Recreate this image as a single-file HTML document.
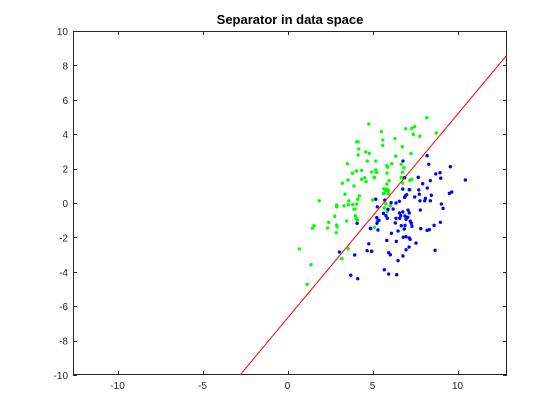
<!DOCTYPE html>
<html><head><meta charset="utf-8"><style>
html,body{margin:0;padding:0;background:#fff;width:560px;height:420px;overflow:hidden;position:relative;}
svg{position:absolute;left:0;top:0;display:block;font-family:"Liberation Sans",Arial,sans-serif;}
</style></head><body>
<svg id="chart" width="560" height="420" viewBox="0 0 560 420"></svg>
<script>
const xTicks=[-10,-5,0,5,10];
const yTicks=[-10,-8,-6,-4,-2,0,2,4,6,8,10];
const sepSlope=1.185, sepIntercept=-6.69;
const greenX=[4.78,4.07,4.15,4.19,4.60,4.81,4.15,4.69,5.19,3.52,4.05,4.36,4.95,5.19,5.22,3.81,4.54,4.36,4.62,3.56,5.09,3.22,3.91,3.38,4.22,1.87,4.13,3.60,2.89,2.89,3.32,3.58,4.07,3.84,3.91,3.97,5.01,2.78,3.99,4.03,4.11,2.42,3.48,1.56,1.46,2.36,2.89,2.91,2.87,0.69,3.56,3.19,1.38,1.15,5.11,
8.19,6.95,7.31,7.48,5.52,7.40,7.78,8.75,6.32,5.60,5.60,6.75,7.26,6.36,6.13,5.84,5.89,6.68,6.85,5.25,5.85,6.75,5.11,6.68,6.81,7.31,7.19,5.97,6.78,5.84,5.66,5.84,5.93,5.78,5.69,5.64,5.93,7.21,5.78,6.05,5.69,5.87];
const greenY=[4.59,3.56,3.55,3.14,2.97,2.89,2.79,2.44,2.44,2.28,1.86,1.90,1.80,1.92,1.80,1.73,1.47,1.38,1.24,1.34,1.47,1.15,0.99,0.51,0.42,0.13,0.22,0.12,-0.12,-0.22,-0.16,-0.10,-0.06,-0.10,-0.35,-0.35,0.17,-0.77,-0.74,-0.89,-0.99,-1.12,-1.05,-1.32,-1.47,-1.45,-1.28,-1.38,-1.73,-2.67,-2.66,-3.24,-3.59,-4.73,-1.41,
4.96,4.32,4.34,4.44,4.15,3.99,3.88,4.07,3.74,3.66,3.35,3.27,2.87,2.72,2.28,2.17,2.08,2.25,2.05,1.78,1.74,1.78,1.49,1.47,1.47,1.38,1.32,1.30,1.16,1.10,0.83,0.81,0.72,0.72,0.58,0.54,0.54,0.77,-0.04,-0.16,-0.29,-0.51];
const blueX=[5.19,5.28,5.25,5.32,5.26,4.09,4.89,5.32,4.78,4.68,4.95,3.05,3.95,3.72,4.13,
8.21,6.79,8.31,9.58,8.97,8.72,9.01,10.46,6.89,7.69,8.40,7.95,7.16,6.78,7.72,8.22,9.52,9.66,7.01,6.93,6.89,7.75,7.48,8.46,8.11,8.07,7.79,8.40,5.72,6.58,6.38,6.09,9.05,9.15,5.91,6.21,7.81,5.64,5.79,5.87,6.58,6.78,6.66,6.60,6.38,7.09,7.16,7.07,5.38,6.91,6.97,7.22,7.28,7.32,6.34,8.99,6.69,6.91,6.87,8.62,4.87,6.50,7.84,8.21,8.34,6.11,6.97,6.81,7.16,7.21,5.84,6.40,7.56,7.15,6.97,8.68,4.95,5.95,6.05,6.79,6.50,5.69,5.95,6.42];
const blueY=[0.22,-0.22,-0.85,-1.03,-1.18,-1.18,-1.49,-1.57,-2.37,-2.77,-2.81,-2.85,-3.02,-4.20,-4.40,
2.75,2.44,2.25,2.11,1.76,1.69,1.44,1.34,1.47,1.49,1.30,1.12,0.77,0.81,0.76,0.87,0.56,0.64,0.48,0.41,0.33,0.51,0.35,0.45,0.27,0.13,0.13,0.13,0.17,0.10,0.00,0.02,-0.06,-0.31,-0.37,-0.35,-0.41,-0.60,-0.74,-0.89,-0.58,-0.52,-0.74,-0.89,-0.89,-0.41,-0.58,-0.83,-1.01,-0.76,-0.95,-1.06,-1.18,-1.35,-1.16,-1.12,-1.32,-1.30,-1.51,-1.30,-1.47,-1.63,-1.49,-1.59,-1.55,-1.76,-1.96,-1.99,-2.03,-2.11,-2.17,-2.23,-2.33,-2.56,-2.72,-2.75,-2.81,-2.89,-3.01,-3.08,-3.35,-3.88,-4.13,-4.17];

const L=73,R=507,T=31,B=375, xmin=-12.62,xmax=12.91,ymin=-10,ymax=10;
const sx=v=>L+(v-xmin)/(xmax-xmin)*(R-L);
const sy=v=>B-(v-ymin)/(ymax-ymin)*(B-T);
const NS='http://www.w3.org/2000/svg';
const svg=document.getElementById('chart');
function mk(t,a,p){const e=document.createElementNS(NS,t);for(const k in a)e.setAttribute(k,a[k]);(p||svg).appendChild(e);return e;}

const title=mk('text',{x:290,y:24,'text-anchor':'middle','font-size':'13','font-weight':'bold',fill:'#000'});
title.textContent='Separator in data space';



const axG=mk('g',{});


mk('rect',{x:L,y:T,width:R-L,height:B-T,fill:'#fff',stroke:'none'},axG);

const defs=mk('defs',{});
const cp=mk('clipPath',{id:'clip'},defs);
mk('rect',{x:L,y:T,width:R-L,height:B-T},cp);

const pts=mk('g',{'clip-path':'url(#clip)'});


for(let i=0;i<greenX.length;i++){
  const c=mk('circle',{cx:sx(greenX[i]),cy:sy(greenY[i]),r:1.7,fill:'#00ff00'},pts);
  
  
}
for(let i=0;i<blueX.length;i++){
  const c=mk('circle',{cx:sx(blueX[i]),cy:sy(blueY[i]),r:1.7,fill:'#0000ff'},pts);
  
  
}
const ln=mk('line',{x1:sx(xmin),y1:sy(sepSlope*xmin+sepIntercept),x2:sx(xmax),y2:sy(sepSlope*xmax+sepIntercept),stroke:'#ff0000','stroke-width':1},pts);



const box=mk('rect',{x:L+0.5,y:T+0.5,width:R-L-1,height:B-T-1,fill:'none',stroke:'#262626','stroke-width':1},axG);



xTicks.forEach(v=>{
  const x=Math.round(sx(v))+0.5;
  mk('line',{x1:x,y1:B,x2:x,y2:B-4,stroke:'#262626'},axG);
  mk('line',{x1:x,y1:T,x2:x,y2:T+4,stroke:'#262626'},axG);
  const t=mk('text',{x:sx(v),y:B+14,'text-anchor':'middle','font-size':'10',fill:'#262626'},axG);
  t.textContent=v;
  
  
});
yTicks.forEach(v=>{
  const y=Math.round(sy(v))+0.5;
  mk('line',{x1:L,y1:y,x2:L+4,y2:y,stroke:'#262626'},axG);
  mk('line',{x1:R,y1:y,x2:R-4,y2:y,stroke:'#262626'},axG);
  const t=mk('text',{x:L-5,y:sy(v)+4,'text-anchor':'end','font-size':'10',fill:'#262626'},axG);
  t.textContent=v;
  
  
});
</script>
</body></html>
